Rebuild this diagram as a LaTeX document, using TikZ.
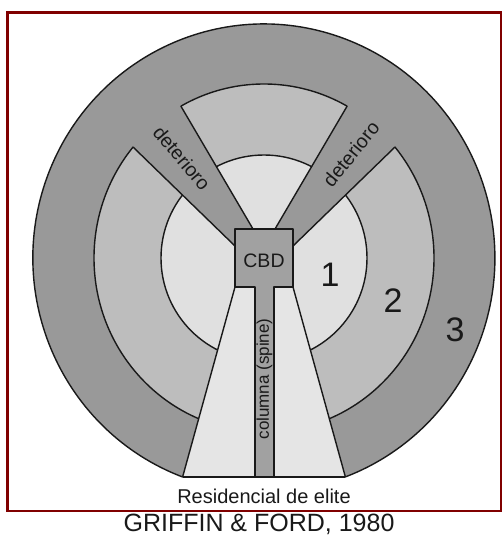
\documentclass[tikz,border=0pt]{standalone}
\usepackage{fontspec}
\setmainfont{Liberation Sans}
\definecolor{zthree}{gray}{0.60}
\definecolor{ztwo}{gray}{0.74}
\definecolor{zinner}{gray}{0.88}
\definecolor{spinec}{gray}{0.90}
\definecolor{cbdc}{gray}{0.63}
\definecolor{framec}{RGB}{128,0,0}
\definecolor{ink}{gray}{0.1}
\tikzset{
  edge/.style={draw=ink, line width=1.4pt, line join=round},
  lbl/.style={text=ink, inner sep=0pt, outer sep=0pt},
  small/.style={lbl, font=\fontsize{19.5}{19.5}\selectfont},
  zonenum/.style={lbl, font=\fontsize{34}{34}\selectfont},
}
\begin{document}
\begin{tikzpicture}[x=1pt,y=-1pt]
\useasboundingbox (0,0) rectangle (502,538);
% frame
\draw[framec, line width=2.5pt] (7.5,12.5) rectangle (500.8,511);
\coordinate (C) at (264,258);
% zone 3: outer disc cut by the flat bottom
\filldraw[edge, fill=zthree] (182.6,477) arc[start angle=249.4, end angle=-69.4, x radius=231pt, y radius=234pt] -- cycle;
% zone 2
\filldraw[edge, fill=ztwo] (C) ellipse[x radius=170pt, y radius=174pt];
% zone 1
\filldraw[edge, fill=zinner] (C) circle[radius=103pt];
% deterioro wedges
\fill[zthree] (235,246) -- (122,136) -- (150,95) -- (169,86) -- (253,229) -- (235,229) -- cycle;
\fill[zthree] (293,246) -- (406,136) -- (378,95) -- (359,86) -- (275,229) -- (293,229) -- cycle;
\draw[edge] (133,147) -- (235,246);
\draw[edge] (180.8,106) -- (253,229);
\draw[edge] (395,147) -- (293,246);
\draw[edge] (347.2,106) -- (275,229);
% spine sector (elite residential)
\fill[spinec] (235,287) -- (293,287) -- (345.4,477) -- (182.6,477) -- cycle;
\draw[edge] (235,287) -- (182.6,477);
\draw[edge] (293,287) -- (345.4,477);
% CBD and column
\filldraw[edge, fill=cbdc] (235,229) -- (293,229) -- (293,287) -- (274,287) -- (274,477)
  -- (255,477) -- (255,287) -- (235,287) -- cycle;
\draw[edge] (182.6,477) -- (345.4,477);
% labels
\node[small] (cbd) at (264,260.5) {CBD};
\node[zonenum] (z1) at (330,274.5) {1};
\node[zonenum] (z2) at (393,301) {2};
\node[zonenum] (z3) at (455,330) {3};
\node[small, rotate=-50] (detl) at (182,158) {deterioro};
\node[small, rotate=51] (detr) at (351,154) {deterioro};
\node[lbl, font=\fontsize{17}{17}\selectfont, rotate=90] (col) at (264.5,379) {columna (spine)};
\node[lbl, font=\fontsize{20}{20}\selectfont] (elite) at (264,496) {Residencial de elite};
\node[lbl, font=\fontsize{25}{25}\selectfont] (cap) at (259,524.5) {GRIFFIN \& FORD, 1980};
\end{tikzpicture}
\end{document}
